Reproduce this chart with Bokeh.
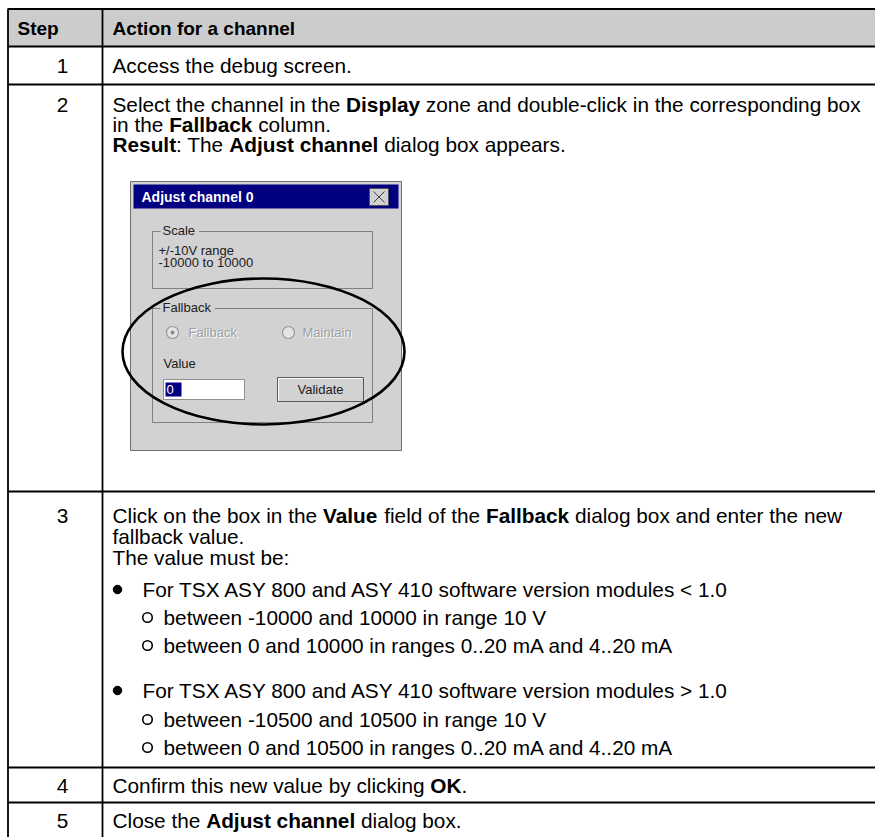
from bokeh.plotting import figure
from bokeh.models import Range1d
from bokeh.core.properties import value
from bokeh.embed import file_html
from bokeh.resources import INLINE

# ---------------- data (texts of the table) ----------------
header_texts = ["Step", "Action for a channel"]
step_labels = ["1", "2", "3", "4", "5"]

row1_lines = [[("Access the debug screen.", False)]]
row2_lines = [
    [("Select the channel in the ", False), ("Display", True),
     (" zone and double-click in the corresponding box", False)],
    [("in the ", False), ("Fallback", True), (" column.", False)],
    [("Result", True), (": The ", False), ("Adjust channel", True),
     (" dialog box appears.", False)],
]
row3_lines = [
    [("Click on the box in the ", False), ("Value", True), (" field of the ", False),
     ("Fallback", True), (" dialog box and enter the new", False)],
    [("fallback value.", False)],
    [("The value must be:", False)],
]
bullet_texts = [
    "For TSX ASY 800 and ASY 410 software version modules < 1.0",
    "For TSX ASY 800 and ASY 410 software version modules > 1.0",
]
sub_texts = [
    ["between -10000 and 10000 in range 10 V",
     "between 0 and 10000 in ranges 0..20 mA and 4..20 mA"],
    ["between -10500 and 10500 in range 10 V",
     "between 0 and 10500 in ranges 0..20 mA and 4..20 mA"],
]
row4_lines = [[("Confirm this new value by clicking ", False), ("OK", True), (".", False)]]
row5_lines = [[("Close the ", False), ("Adjust channel", True), (" dialog box.", False)]]

dialog_title = "Adjust channel 0"
scale_label = "Scale"
scale_lines = ["+/-10V range", "-10000 to 10000"]
fallback_label = "Fallback"
radio_labels = ["Fallback", "Maintain"]
value_label = "Value"
value_text = "0"
button_label = "Validate"

# ---------------- font metrics (Arial / Liberation Sans) ----------------
REG = {' ': 278, '!': 278, '+': 584, ',': 278, '-': 333, '.': 278, '/': 278, ':': 278,
       '<': 584, '>': 584, 'A': 667, 'B': 667, 'C': 722, 'D': 722, 'E': 667, 'F': 611,
       'G': 778, 'H': 722, 'I': 278, 'J': 500, 'K': 667, 'L': 556, 'M': 833, 'N': 722,
       'O': 778, 'P': 667, 'Q': 778, 'R': 722, 'S': 667, 'T': 611, 'U': 722, 'V': 667,
       'W': 944, 'X': 667, 'Y': 667, 'Z': 611, 'a': 556, 'b': 556, 'c': 500, 'd': 556,
       'e': 556, 'f': 278, 'g': 556, 'h': 556, 'i': 222, 'j': 222, 'k': 500, 'l': 222,
       'm': 833, 'n': 556, 'o': 556, 'p': 556, 'q': 556, 'r': 333, 's': 500, 't': 278,
       'u': 556, 'v': 500, 'w': 722, 'x': 500, 'y': 500, 'z': 500}
BLD = {' ': 278, '!': 333, '+': 584, ',': 278, '-': 333, '.': 278, '/': 278, ':': 333,
       '<': 584, '>': 584, 'A': 722, 'B': 722, 'C': 722, 'D': 722, 'E': 667, 'F': 611,
       'G': 778, 'H': 722, 'I': 278, 'J': 556, 'K': 722, 'L': 611, 'M': 833, 'N': 722,
       'O': 778, 'P': 667, 'Q': 778, 'R': 722, 'S': 667, 'T': 611, 'U': 722, 'V': 667,
       'W': 944, 'X': 667, 'Y': 667, 'Z': 611, 'a': 556, 'b': 611, 'c': 556, 'd': 611,
       'e': 556, 'f': 333, 'g': 611, 'h': 611, 'i': 278, 'j': 278, 'k': 556, 'l': 278,
       'm': 889, 'n': 611, 'o': 611, 'p': 611, 'q': 611, 'r': 389, 's': 556, 't': 333,
       'u': 611, 'v': 556, 'w': 778, 'x': 556, 'y': 556, 'z': 500}


def tw(s, bold, size):
    t = BLD if bold else REG
    return sum(t.get(c, 556) for c in s) / 1000.0 * size


# ---------------- layout (page pixels) ----------------
W, H = 875, 837
FONT = "Liberation Sans"
FS = 20.8       # body text
HFS = 19        # header text
DFS = 13        # dialog text

p = figure(width=W, height=H, output_backend="svg", toolbar_location=None,
           x_range=Range1d(0, W), y_range=Range1d(H, 0), min_border=0,
           background_fill_color="white", border_fill_color="white")
p.axis.visible = False
p.grid.visible = False
p.outline_line_color = None

txt = {False: dict(x=[], y=[], t=[]), True: dict(x=[], y=[], t=[])}


def rich(x, y, segs, size=FS):
    cx = x
    for s, b in segs:
        lead = len(s) - len(s.lstrip(" "))
        core = s.strip(" ")
        if core:
            txt[b]["x"].append(cx + tw(" " * lead, b, size))
            txt[b]["y"].append(y)
            txt[b]["t"].append(core)
        cx += tw(s, b, size)


col_left, col_div, col_right = 7.5, 102, 900
h_lines = [8.5, 46, 84, 491, 767, 802]
text_x = 112
num_x = 62

# header band
p.quad(left=[col_left], right=[col_right], top=[8], bottom=[46],
       fill_color="#cccccc", line_color=None)

header_y = 28
row1_y = [65]
row2_y = [104, 124, 144]
row3_y = [515, 536, 557]
list_y = [[589, 617, 645], [690, 719, 747]]
row4_y = [785]
row5_y = [820]

p.text(x=[17, text_x], y=[header_y, header_y], text=header_texts,
       text_font=value(FONT), text_font_style="bold", text_font_size=f"{HFS}px",
       text_baseline="middle", text_color="black")

num_ys = [row1_y[0], row2_y[0], row3_y[0], row4_y[0], row5_y[0]]
p.text(x=[num_x] * 5, y=num_ys, text=step_labels,
       text_font=value(FONT), text_font_size=f"{FS}px", text_align="center",
       text_baseline="middle", text_color="black")

for lines, ys in [(row1_lines, row1_y), (row2_lines, row2_y), (row3_lines, row3_y),
                  (row4_lines, row4_y), (row5_lines, row5_y)]:
    for segs, yy in zip(lines, ys):
        rich(text_x, yy, segs)

# bullet list
bullet_x, bullet_tx = 117, 142
sub_x, sub_tx = 147, 163
bx, by, sx, sy = [], [], [], []
for i, btxt in enumerate(bullet_texts):
    yb = list_y[i][0]
    bx.append(bullet_x); by.append(yb)
    rich(bullet_tx, yb, [(btxt, False)])
    for j, st in enumerate(sub_texts[i]):
        ys_ = list_y[i][j + 1]
        sx.append(sub_x); sy.append(ys_)
        rich(sub_tx, ys_, [(st, False)])
p.scatter(x=bx, y=by, size=8.5, marker="circle", fill_color="black", line_color="black")
p.scatter(x=sx, y=sy, size=9.5, marker="circle", fill_color="white", line_color="black",
          line_width=1.6)

# table lines
p.segment(x0=[col_left] * len(h_lines), x1=[col_right] * len(h_lines),
          y0=h_lines, y1=h_lines, line_color="black", line_width=1.8)
p.segment(x0=[col_left, col_div], x1=[col_left, col_div],
          y0=[8, 8], y1=[900, 900], line_color="black", line_width=1.8)

# ---------------- dialog screenshot ----------------
GRAY = "#d2d2d2"
DK = "#808080"
p.quad(left=[130], right=[401], top=[181], bottom=[450],
       fill_color=GRAY, line_color="#6e6e6e", line_width=1)
p.quad(left=[133], right=[398], top=[184], bottom=[208],
       fill_color="#000080", line_color=None)
p.text(x=[141], y=[196.5], text=[dialog_title], text_font=value(FONT),
       text_font_style="bold", text_font_size="14px", text_baseline="middle",
       text_color="white")
# close button
p.quad(left=[369], right=[388], top=[188], bottom=[205],
       fill_color=GRAY, line_color="#505050", line_width=1)
p.segment(x0=[373, 373], x1=[384, 384], y0=[191, 202], y1=[202, 191],
          line_color="#404040", line_width=1)


def group(left, right, top, bottom, label):
    lw = tw(label, False, DFS)
    lab_l, lab_r = left + 8, left + 10 + lw + 4
    p.segment(x0=[left, lab_r, right, left, left], x1=[lab_l, right, right, left, right],
              y0=[top, top, top, top, bottom], y1=[top, top, bottom, bottom, bottom],
              line_color=DK, line_width=1)
    p.text(x=[left + 10], y=[top - 1], text=[label], text_font=value(FONT),
           text_font_size=f"{DFS}px", text_baseline="middle", text_color="#202020")


group(152, 372, 231, 288, scale_label)
group(152, 372, 308, 422, fallback_label)

p.text(x=[158] * 2, y=[250, 262], text=scale_lines, text_font=value(FONT),
       text_font_size=f"{DFS}px", text_baseline="middle", text_color="#202020")

# radio buttons (disabled)
radio_cx = [172, 288]
p.scatter(x=radio_cx, y=[332] * 2, size=12, marker="circle",
          fill_color="#e4e4e4", line_color="#9a9a9a", line_width=1.2)
p.scatter(x=[radio_cx[0]], y=[332], size=4, marker="circle",
          fill_color="#8a8a8a", line_color=None)
p.text(x=[189, 303], y=[333] * 2, text=radio_labels, text_font=value(FONT),
       text_font_size=f"{DFS}px", text_baseline="middle", text_color="white")
p.text(x=[188, 302], y=[332] * 2, text=radio_labels, text_font=value(FONT),
       text_font_size=f"{DFS}px", text_baseline="middle", text_color="#a0a0a0")

p.text(x=[163], y=[363], text=[value_label], text_font=value(FONT),
       text_font_size=f"{DFS}px", text_baseline="middle", text_color="#202020")

# input box
p.quad(left=[163], right=[244], top=[379], bottom=[399],
       fill_color="white", line_color="#909090", line_width=1)
p.quad(left=[165], right=[181], top=[382], bottom=[396],
       fill_color="#000080", line_color=None)
p.text(x=[166], y=[389], text=[value_text], text_font=value(FONT),
       text_font_size=f"{DFS}px", text_baseline="middle", text_color="white")

# Validate button
p.quad(left=[277], right=[363], top=[377], bottom=[401],
       fill_color=GRAY, line_color="#5a5a5a", line_width=1)
p.segment(x0=[278, 278], x1=[362, 278], y0=[378, 378], y1=[378, 400],
          line_color="white", line_width=1)
p.text(x=[320], y=[389], text=[button_label], text_font=value(FONT),
       text_font_size=f"{DFS}px", text_align="center", text_baseline="middle",
       text_color="#202020")

# hand-drawn ellipse
p.ellipse(x=[263], y=[351], width=[282], height=[146], fill_color=None,
          line_color="black", line_width=2.6)

# ---------------- table texts ----------------
for b in (False, True):
    d = txt[b]
    p.text(x=d["x"], y=d["y"], text=d["t"], text_font=value(FONT),
           text_font_style="bold" if b else "normal", text_font_size=f"{FS}px",
           text_baseline="middle", text_color="black")

open("out.html", "w").write(file_html(p, INLINE))
